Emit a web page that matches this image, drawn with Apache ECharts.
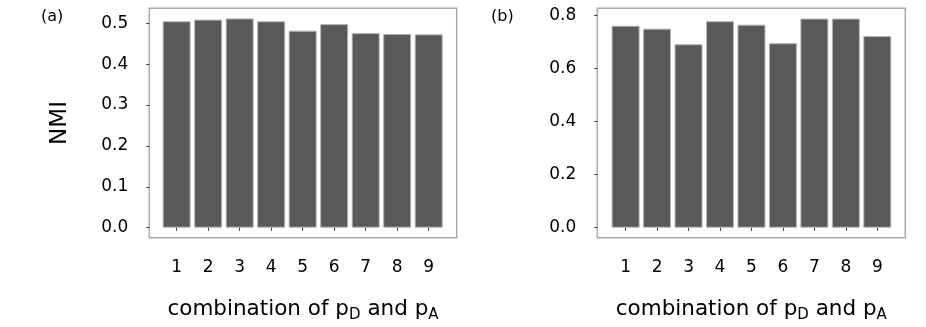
<!DOCTYPE html>
<html>
<head>
<meta charset="utf-8">
<title>NMI by combination</title>
<script src="https://cdn.jsdelivr.net/npm/echarts@6/dist/echarts.min.js"></script>
<style>
  html, body { margin: 0; padding: 0; background: #fff; }
  #chart { width: 926px; height: 327px; }
</style>
</head>
<body>
<div id="chart"></div>
<script>
  // combinations 1..9 (x tick labels)
  const combos = [1, 2, 3, 4, 5, 6, 7, 8, 9]
  // panel (a) NMI values
  const nmiA = [0.505, 0.509, 0.512, 0.505, 0.482, 0.498, 0.476, 0.474, 0.473]
  // panel (b) NMI values
  const nmiB = [0.762, 0.751, 0.692, 0.779, 0.766, 0.696, 0.789, 0.789, 0.723]
  // y tick labels
  const ticksA = [0, 0.1, 0.2, 0.3, 0.4, 0.5]
  const ticksB = [0, 0.2, 0.4, 0.6, 0.8]

  const font = 'DejaVu Sans'
  const barColor = '#595959'

  const xName = {
    name: '{t|combination of p}{sub|D}{t| and p}{sub|A}',
    nameLocation: 'middle',
    nameGap: 61,
    nameTextStyle: {
      fontFamily: font, fontSize: 21, color: '#000',
      rich: {
        t: { fontFamily: font, fontSize: 21.5, color: '#000', lineHeight: 24, verticalAlign: 'top' },
        sub: { fontFamily: font, fontSize: 15, color: '#000', lineHeight: 24, verticalAlign: 'bottom' }
      }
    }
  }

  function xAxis(idx, min, max) {
    return Object.assign({
      type: 'value',
      gridIndex: idx,
      min: min,
      max: max,
      axisLine: { show: false },
      splitLine: { show: false },
      axisTick: { show: true, length: 3, customValues: combos, lineStyle: { color: '#333' } },
      axisLabel: { customValues: combos, margin: 21, fontFamily: font, fontSize: 17, color: '#000' }
    }, xName)
  }

  function yAxis(idx, min, max, ticks) {
    return {
      type: 'value',
      gridIndex: idx,
      min: min,
      max: max,
      axisLine: { show: false },
      splitLine: { show: false },
      axisTick: { show: true, length: 3, customValues: ticks, lineStyle: { color: '#333' } },
      axisLabel: {
        customValues: ticks, margin: 21, fontFamily: font, fontSize: 17, color: '#000',
        formatter: v => v.toFixed(1)
      }
    }
  }

  function pairs(vals) {
    return combos.map((c, i) => [c, vals[i]])
  }

  const chart = echarts.init(document.getElementById('chart'), null, { renderer: 'canvas' })

  const yA = yAxis(0, -0.0245, 0.5367, ticksA)
  yA.name = 'NMI'
  yA.nameLocation = 'middle'
  yA.nameGap = 78
  yA.nameTextStyle = { fontFamily: font, fontSize: 23, color: '#000' }

  chart.setOption({
    animation: false,
    title: [
      { text: '(a)', left: 41, top: 9, padding: 0, textStyle: { fontFamily: font, fontSize: 16, fontWeight: 'normal', color: '#000' } },
      { text: '(b)', left: 491, top: 9, padding: 0, textStyle: { fontFamily: font, fontSize: 16, fontWeight: 'normal', color: '#000' } }
    ],
    grid: [
      { left: 149.3, top: 8.3, width: 307.4, height: 229.4, show: true, borderColor: '#aaa', borderWidth: 1.5, containLabel: false, outerBoundsMode: 'none' },
      { left: 597.3, top: 8.3, width: 308, height: 229.4, show: true, borderColor: '#aaa', borderWidth: 1.5, containLabel: false, outerBoundsMode: 'none' }
    ],
    xAxis: [
      xAxis(0, 0.132, 9.889),
      xAxis(1, 0.1, 9.89)
    ],
    yAxis: [
      yA,
      yAxis(1, -0.0377, 0.8277, ticksB)
    ],
    series: [
      {
        type: 'bar', xAxisIndex: 0, yAxisIndex: 0, barWidth: 28,
        itemStyle: { color: barColor, borderColor: '#b5b5b5', borderWidth: 1 },
        data: pairs(nmiA)
      },
      {
        type: 'bar', xAxisIndex: 1, yAxisIndex: 1, barWidth: 28,
        itemStyle: { color: barColor, borderColor: '#b5b5b5', borderWidth: 1 },
        data: pairs(nmiB)
      }
    ]
  })
</script>
</body>
</html>
